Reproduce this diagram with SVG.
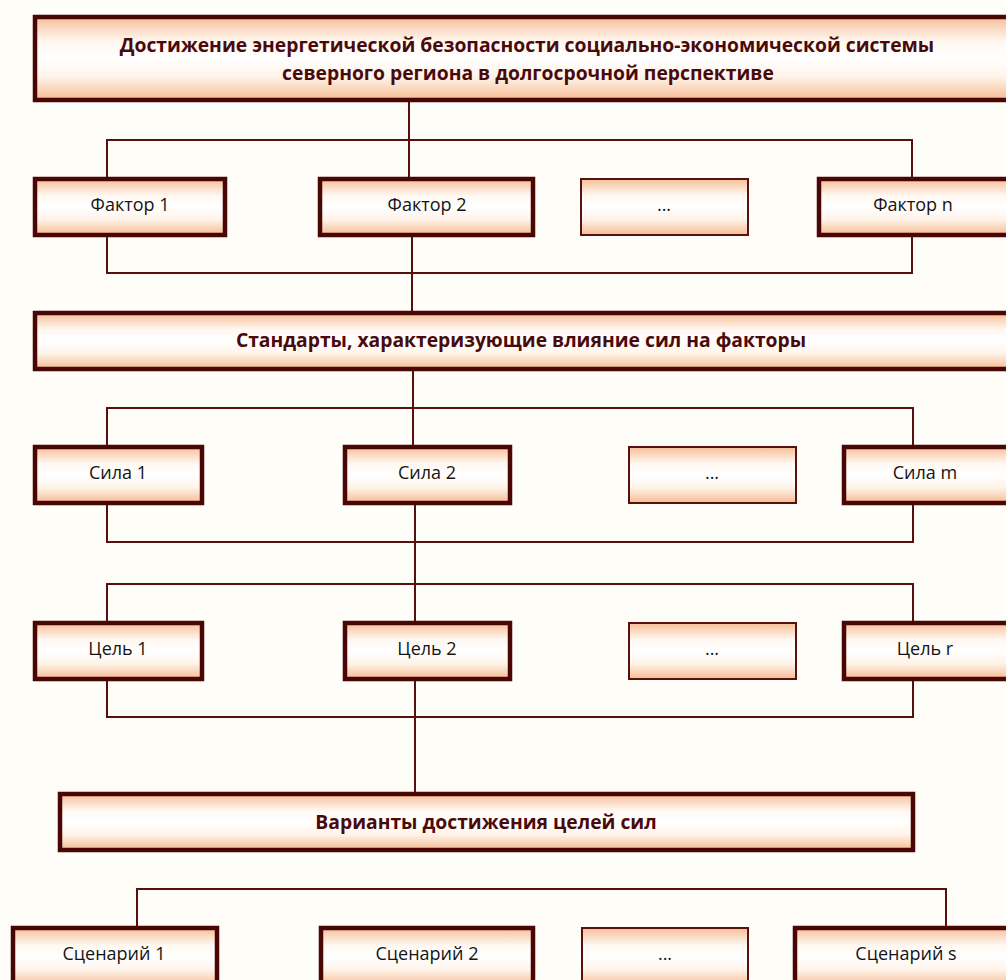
<svg xmlns="http://www.w3.org/2000/svg" width="1006" height="980" viewBox="0 0 1006 980">
<defs>
<linearGradient id="g" x1="0" y1="0" x2="0" y2="1">
<stop offset="0" stop-color="#f7bf98"/>
<stop offset="0.3" stop-color="#fff8f2"/>
<stop offset="0.5" stop-color="#ffffff"/>
<stop offset="0.72" stop-color="#fff4ea"/>
<stop offset="1" stop-color="#f6bb93"/>
</linearGradient>
<style>
.b{fill:url(#g);stroke:#4a0505;stroke-width:4.5}
.t{fill:url(#g);stroke:#5a1010;stroke-width:2}
.c{fill:none;stroke:#5a0f0f;stroke-width:2}
.l{font-family:"Open Sans","Noto Sans",sans-serif;font-size:18px;fill:#141414;text-anchor:middle}
.h{font-family:"Open Sans","Noto Sans",sans-serif;font-size:19.3px;font-weight:bold;fill:#4a0a0a;text-anchor:middle}
</style>
</defs>
<rect width="1006" height="980" fill="#fefdf8"/>
<g id="connectors">
<path class="c" d="M409,100 V179"/>
<path class="c" d="M107,179 V140 H912 V179"/>
<path class="c" d="M107,235 V273 H912 V235"/>
<path class="c" d="M412,235 V313"/>
<path class="c" d="M413,369 V447"/>
<path class="c" d="M107,447 V408 H913 V447"/>
<path class="c" d="M107,503 V542 H913 V503"/>
<path class="c" d="M415,503 V794"/>
<path class="c" d="M107,623 V584 H913 V623"/>
<path class="c" d="M107,679 V717 H913 V679"/>
<path class="c" d="M137,928 V889 H946 V928"/>
</g>
<g id="goal"><rect class="b" x="35" y="17" width="1000" height="83"/>
<text class="h" x="527" y="52">Достижение энергетической безопасности социально-экономической системы</text>
<text class="h" x="528" y="80">северного региона в долгосрочной перспективе</text></g>
<g id="factor1"><rect class="b" x="35" y="179" width="190" height="56"/><text class="l" x="130" y="211">Фактор 1</text></g>
<g id="factor2"><rect class="b" x="320" y="179" width="213" height="56"/><text class="l" x="427" y="211">Фактор 2</text></g>
<g id="factorDots"><rect class="t" x="581" y="179" width="167" height="56"/><text class="l" x="664" y="211">...</text></g>
<g id="factorN"><rect class="b" x="819" y="179" width="200" height="56"/><text class="l" x="913" y="211">Фактор n</text></g>
<g id="standards"><rect class="b" x="35" y="313" width="1000" height="56"/>
<text class="h" x="521" y="347">Стандарты, характеризующие влияние сил на факторы</text></g>
<g id="force1"><rect class="b" x="35" y="447" width="167" height="56"/><text class="l" x="118" y="479">Сила 1</text></g>
<g id="force2"><rect class="b" x="345" y="447" width="165" height="56"/><text class="l" x="427" y="479">Сила 2</text></g>
<g id="forceDots"><rect class="t" x="629" y="447" width="167" height="56"/><text class="l" x="712" y="479">...</text></g>
<g id="forceM"><rect class="b" x="844" y="447" width="200" height="56"/><text class="l" x="925" y="479">Сила m</text></g>
<g id="aim1"><rect class="b" x="35" y="623" width="167" height="56"/><text class="l" x="118" y="655">Цель 1</text></g>
<g id="aim2"><rect class="b" x="345" y="623" width="165" height="56"/><text class="l" x="427" y="655">Цель 2</text></g>
<g id="aimDots"><rect class="t" x="629" y="623" width="167" height="56"/><text class="l" x="712" y="655">...</text></g>
<g id="aimR"><rect class="b" x="844" y="623" width="200" height="56"/><text class="l" x="925" y="655">Цель r</text></g>
<g id="variants"><rect class="b" x="60" y="794" width="853" height="56"/>
<text class="h" x="486" y="829">Варианты достижения целей сил</text></g>
<g id="scenario1"><rect class="b" x="13" y="928" width="204" height="58"/><text class="l" x="114" y="960">Сценарий 1</text></g>
<g id="scenario2"><rect class="b" x="321" y="928" width="212" height="58"/><text class="l" x="427" y="960">Сценарий 2</text></g>
<g id="scenarioDots"><rect class="t" x="582" y="928" width="166" height="58"/><text class="l" x="665" y="960">...</text></g>
<g id="scenarioS"><rect class="b" x="795" y="928" width="250" height="58"/><text class="l" x="906" y="960">Сценарий s</text></g>
</svg>
